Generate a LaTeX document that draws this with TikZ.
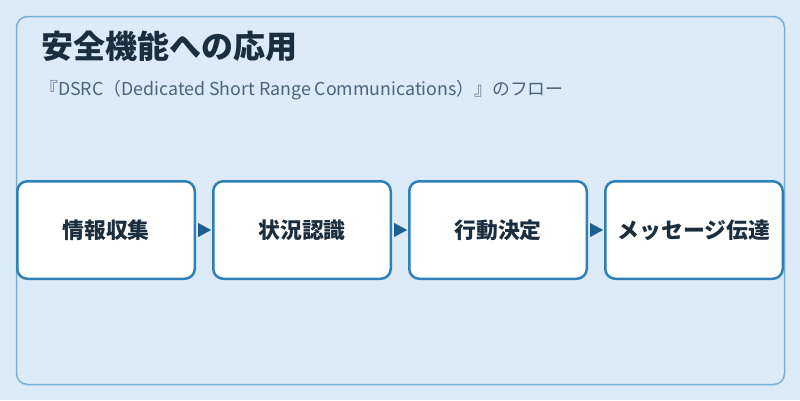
\documentclass[tikz,border=0pt]{standalone}
\usepackage{fontspec}
\usetikzlibrary{arrows.meta}
\newfontfamily\cjk{Noto Sans CJK JP}
\definecolor{bgc}{HTML}{DCEBF7}
\definecolor{panelc}{HTML}{7AB0D4}
\definecolor{boxc}{HTML}{2E80B8}
\definecolor{arrc}{HTML}{1F5F8F}
\definecolor{titlec}{HTML}{1A2E40}
\definecolor{subc}{HTML}{4A6478}
\tikzset{
  stepbox/.style={draw=boxc, line width=2.5pt, fill=white, rounded corners=10pt,
    minimum width=177.5pt, minimum height=97.5pt, inner sep=0pt,
    font=\cjk\bfseries\fontsize{21.8}{25}\selectfont, text=titlec},
  flowarrow/.style={-{Triangle[length=13pt,width=14pt]}, draw=arrc, fill=arrc,
    line width=0.1pt, shorten <=2pt, shorten >=1pt}
}
\begin{document}
\begin{tikzpicture}[x=1pt,y=-1pt]
\useasboundingbox (0,0) rectangle (800,400);
\fill[bgc] (0,0) rectangle (800,400);
\draw[panelc, line width=1.5pt, rounded corners=11pt] (16.5,16.5) rectangle (784.5,384.5);
\node[anchor=west, inner sep=0pt, text=titlec, font=\cjk\bfseries\fontsize{32}{36}\selectfont] (title) at (41,46.5) {安全機能への応用};
\node[anchor=base west, inner sep=0pt, text=subc, font=\cjk\fontsize{17.8}{21}\selectfont] (sub) at (40,95.5) {『DSRC（Dedicated Short Range Communications）』のフロー};
\node[stepbox] (b1) at (106,230) {情報収集};
\node[stepbox] (b2) at (302,230) {状況認識};
\node[stepbox] (b3) at (498,230) {行動決定};
\node[stepbox] (b4) at (694,230) {メッセージ伝達};
\draw[flowarrow] (b1.east) -- (b2.west);
\draw[flowarrow] (b2.east) -- (b3.west);
\draw[flowarrow] (b3.east) -- (b4.west);
\end{tikzpicture}
\end{document}
